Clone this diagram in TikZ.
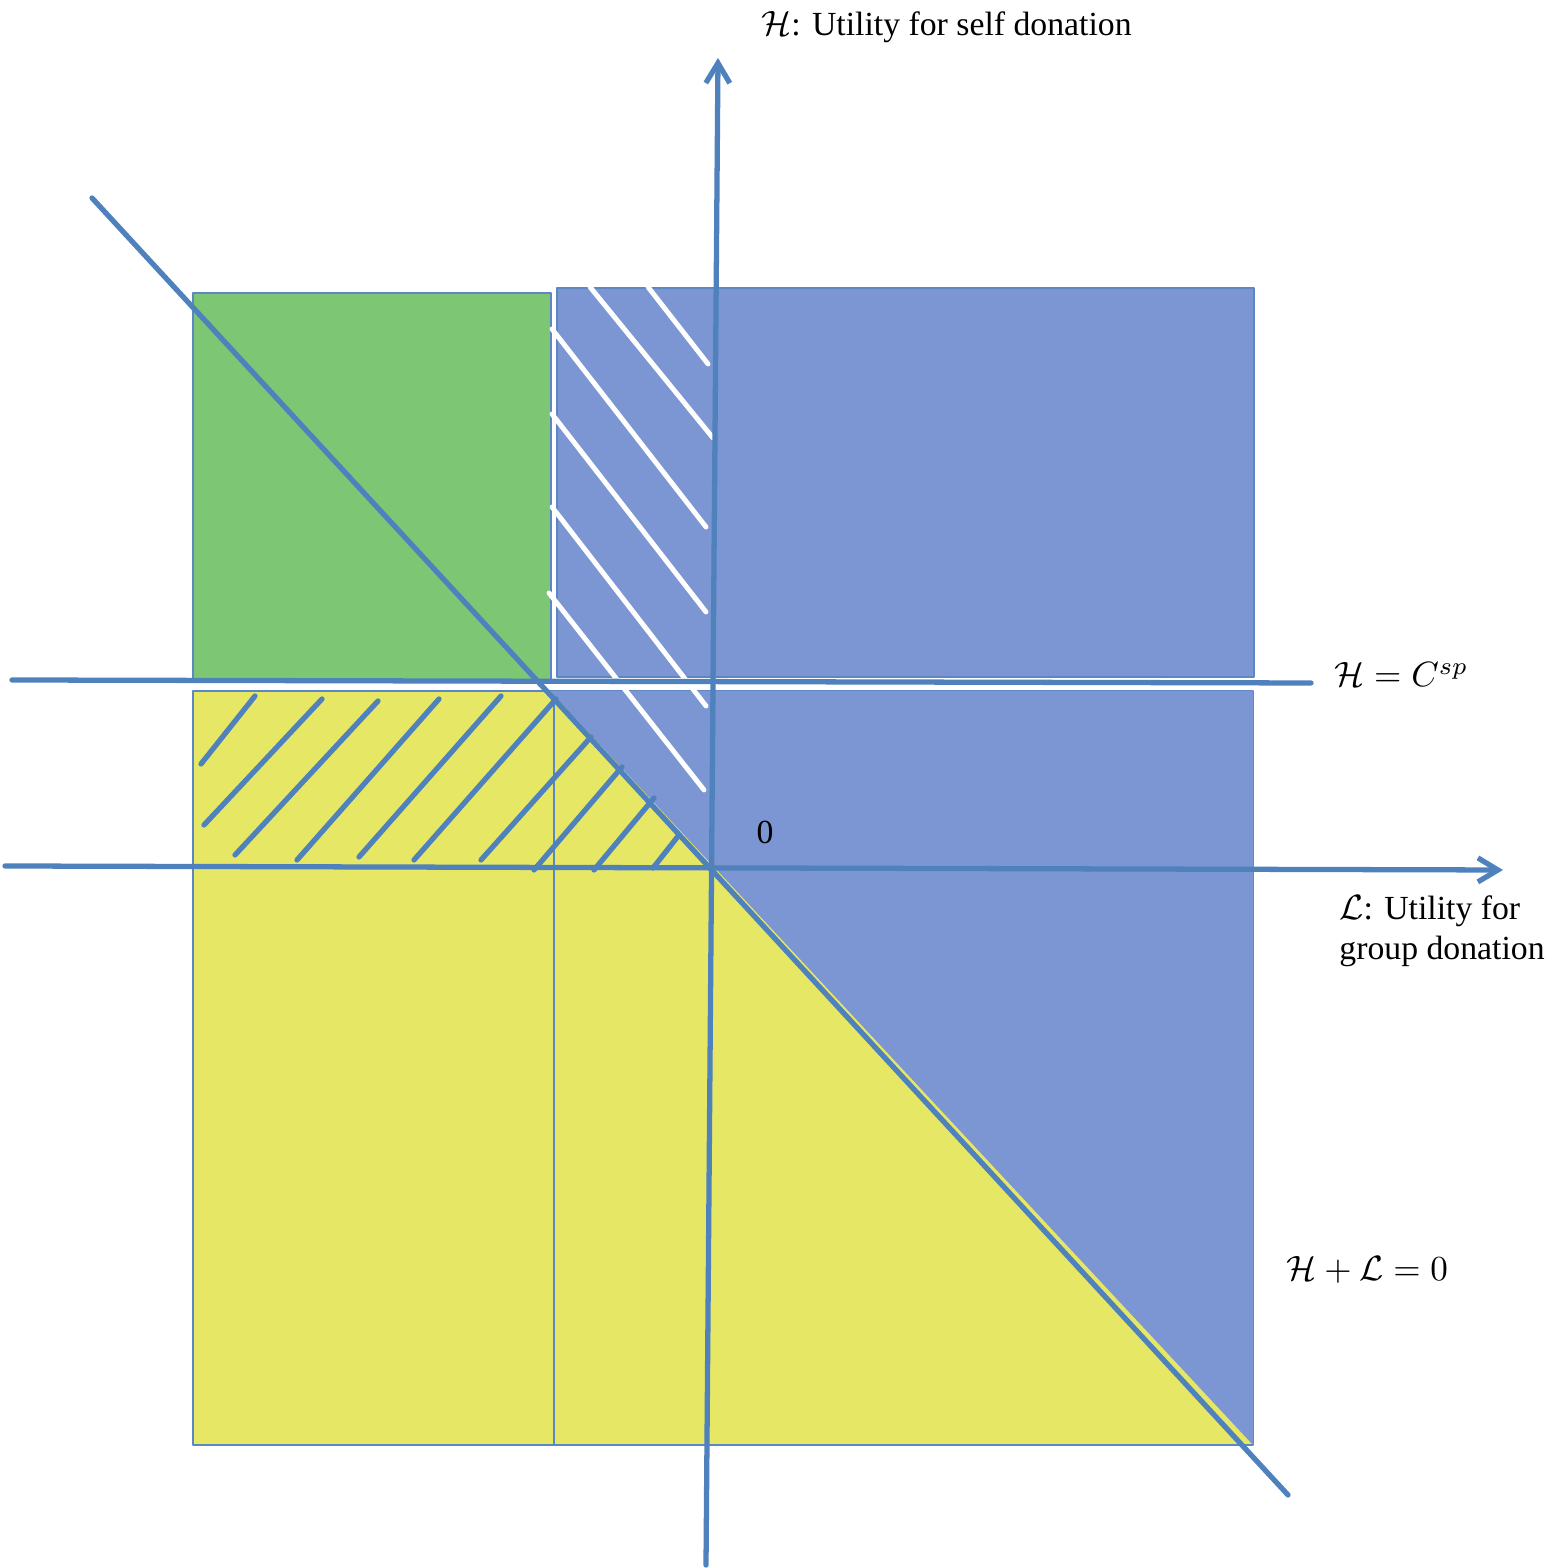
\documentclass[tikz,border=0pt]{standalone}
\usepackage{fontspec}
\setmainfont{Liberation Serif}
\usetikzlibrary{arrows.meta,calc}
\usepackage{tkz-euclide}
\definecolor{LineClr}{rgb}{0.31,0.506,0.741}
\definecolor{EdgeClr}{rgb}{0.36,0.53,0.76}
\definecolor{GreenClr}{rgb}{0.49,0.776,0.451}
\definecolor{BlueClr}{rgb}{0.482,0.588,0.824}
\definecolor{YellowClr}{rgb}{0.902,0.906,0.396}

\begin{document}
\begin{tikzpicture}[font=\fontsize{9.6}{11.5}\selectfont]
\useasboundingbox (0,0) rectangle (15.64,15.68);
\tkzSetUpLine[line width=1.5pt,color=LineClr]

% regions
\tkzDefPoints{1.93/12.75/G1,5.51/12.75/G2,5.51/8.88/G3,1.93/8.88/G4}
\tkzDefPoints{5.57/12.80/B1,12.54/12.80/B2,12.54/8.91/B3,5.57/8.91/B4}
\tkzDefPoints{1.93/8.77/Y1,5.54/8.77/Y2,5.54/1.23/Y3,1.93/1.23/Y4}
\tkzDefPoints{12.53/8.77/Y5,12.53/1.23/Y6,5.50/8.77/T1}

% axes and lines
\tkzDefPoints{7.06/0.03/VB,7.18/15.10/VT,0.05/7.02/HL,15.03/6.98/HR}
\tkzDefPoints{0.12/8.88/CL,13.11/8.85/CR,0.92/13.70/D1,12.88/0.73/D2}
\tkzDefPoint(7.65,7.36){O}

% blue hatching
\tkzDefPoints{2.01/8.04/a1,2.55/8.72/a2,2.04/7.43/b1,3.22/8.69/b2,
  2.35/7.13/c1,3.78/8.67/c2,2.97/7.08/d1,4.39/8.69/d2,
  3.59/7.11/e1,5.01/8.72/e2,4.14/7.08/f1,5.56/8.69/f2,
  4.81/7.08/g1,5.91/8.31/g2,5.34/6.98/h1,6.22/8.01/h2,
  5.94/6.98/i1,6.54/7.70/i2,6.53/7.00/j1,6.79/7.33/j2}

% white hatching
\tkzDefPoints{5.90/12.81/w1,7.13/11.30/w2,6.48/12.81/x1,7.08/12.04/x2,
  5.52/12.39/u1,7.06/10.41/u2,5.52/11.54/v1,7.06/9.56/v2,
  5.52/10.61/s1,7.06/8.62/s2,5.49/9.75/r1,7.04/7.78/r2}

\tkzFillPolygon[fill=GreenClr](G1,G2,G3,G4)
\tkzFillPolygon[fill=BlueClr](B1,B2,B3,B4)
\tkzFillPolygon[fill=YellowClr](Y1,Y2,Y3,Y4)
\tkzFillPolygon[fill=YellowClr](Y2,Y5,Y6,Y3)
\tkzDrawPolygon[color=EdgeClr,line width=0.5pt](G1,G2,G3,G4)
\tkzDrawPolygon[color=EdgeClr,line width=0.5pt](B1,B2,B3,B4)
\tkzDrawPolygon[color=EdgeClr,line width=0.5pt](Y1,Y2,Y3,Y4)
\tkzDrawPolygon[color=EdgeClr,line width=0.5pt](Y2,Y5,Y6,Y3)
\tkzFillPolygon[fill=BlueClr](T1,Y5,Y6)

\tkzDrawSegments[color=white,line width=1.4pt](w1,w2 x1,x2 u1,u2 v1,v2 s1,s2 r1,r2)
\tkzDrawSegments(a1,a2 b1,b2 c1,c2 d1,d2 e1,e2 f1,f2 g1,g2 h1,h2 i1,i2 j1,j2)

\tkzDrawSegments(CL,CR D1,D2)
\tkzDrawSegment[-{Straight Barb[length=2mm,width=2.4mm]}](VB,VT)
\tkzDrawSegment[-{Straight Barb[length=2mm,width=2.4mm]}](HL,HR)

\node (lblH) [anchor=west] at (7.49,15.41) {$\mathcal{H}$: Utility for self donation};
\node (lblC) [anchor=west] at (13.22,8.93) {$\mathcal{H}=C^{sp}$};
\node (lblL) [anchor=west,align=left] at (13.27,6.37) {$\mathcal{L}$: Utility for\\group donation};
\node (lblS) [anchor=west] at (12.74,2.98) {$\mathcal{H}+\mathcal{L}=0$};
\node (lblO) at (O) {0};

\end{tikzpicture}
\end{document}
